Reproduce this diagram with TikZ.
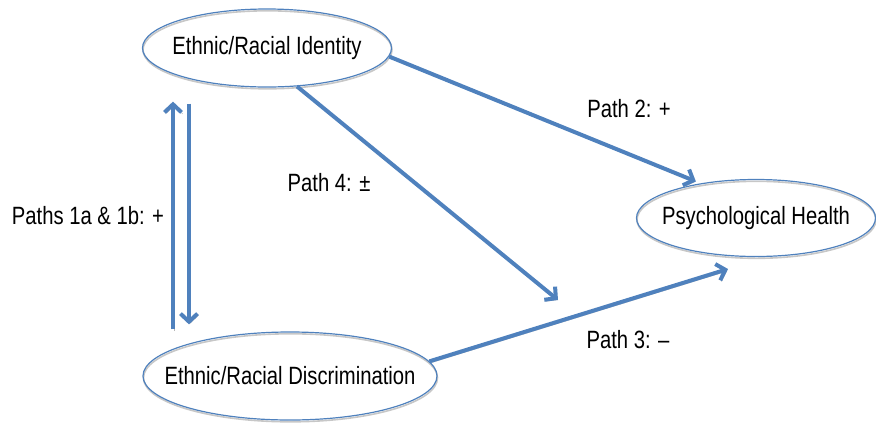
\documentclass[tikz,border=0pt]{standalone}
\usepackage{fontspec}
\setmainfont{Liberation Sans}[FakeStretch=0.81]
\usetikzlibrary{shapes.geometric,arrows.meta}
\definecolor{pathblue}{RGB}{79,129,189}

\begin{document}
\begin{tikzpicture}[x=1pt, y=-1pt,
    main/.style = {draw=pathblue, line width=1.2pt, ellipse, inner ysep=0pt, inner xsep=-50pt,
        font=\fontsize{25}{28}\selectfont,
        preaction={draw=black!22, line width=1.6pt, transform canvas={shift={(0.5pt,-1.8pt)}}}},
    lab/.style = {font=\fontsize{25}{28}\selectfont},
    link/.style = {draw=pathblue, line width=4pt, -{Straight Barb[length=8pt,width=17pt]},
        preaction={draw=black!28, transform canvas={shift={(1.2pt,-1.6pt)}}}}]
        \useasboundingbox (0,0) rectangle (876,424);

        \node[main, minimum width=249pt, minimum height=78pt] (1) at (267,48) {Ethnic/Racial Identity};
        \node[main, minimum width=294pt, minimum height=88pt] (2) at (290,376) {Ethnic/Racial Discrimination};
        \node[main, minimum width=239pt, minimum height=77pt] (3) at (756,218) {Psychological Health};

        \node[lab] (l1) at (88,216) {Paths 1a \& 1b: +};
        \node[lab] (l2) at (629,109) {Path 2: +};
        \node[lab] (l3) at (628,340) {Path 3: –};
        \node[lab] (l4) at (329,183) {Path 4: ±};

        \coordinate (u) at (173,0);
        \coordinate (d) at (189,0);
        \coordinate (p4) at (558,300);
        \coordinate (p3) at (728,269);

        \draw[link, shorten <=2pt, shorten >=14pt] (2.north -| u) -- (1.south -| u);
        \draw[link, shorten <=16pt, shorten >=7pt] (1.south -| d) -- (2.north -| d);

        \draw[link, shorten >=5pt] (1.-4) -- (3.148);
        \draw[link] (2.6) -- (p3);
        \draw[link] (1.-52) -- (p4);
\end{tikzpicture}
\end{document}
